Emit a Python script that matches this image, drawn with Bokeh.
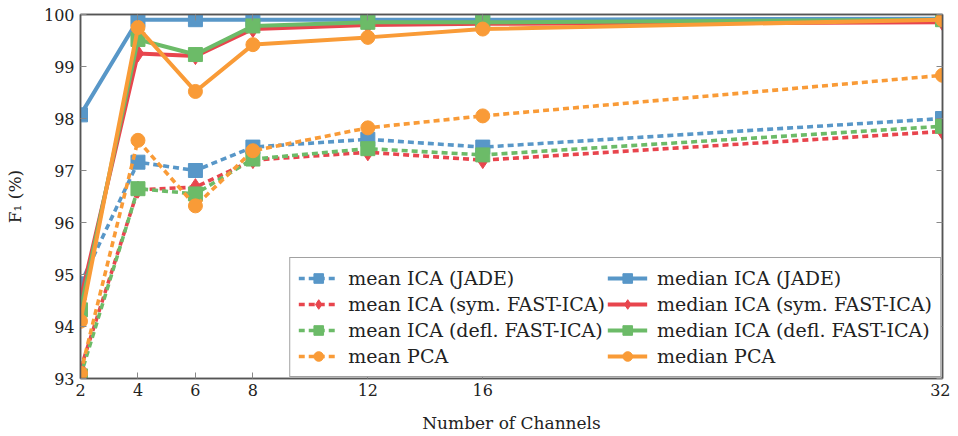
from bokeh.plotting import figure
from bokeh.models import Range1d, LinearAxis, Legend, LegendItem, FixedTicker, CustomJSTickFormatter
from bokeh.embed import file_html
from bokeh.resources import INLINE

channels = [2, 4, 6, 8, 12, 16, 32]
x_ticks = [2, 4, 6, 8, 12, 16, 32]
y_ticks = [93, 94, 95, 96, 97, 98, 99, 100]

mean_jade = [94.82, 97.16, 97.0, 97.45, 97.6, 97.45, 98.0]
median_jade = [98.07, 99.9, 99.9, 99.9, 99.9, 99.9, 99.92]
mean_sym = [93.18, 96.63, 96.68, 97.2, 97.35, 97.2, 97.75]
median_sym = [94.52, 99.25, 99.2, 99.72, 99.8, 99.82, 99.85]
mean_defl = [93.05, 96.65, 96.55, 97.22, 97.42, 97.3, 97.85]
median_defl = [94.32, 99.52, 99.23, 99.78, 99.85, 99.85, 99.9]
mean_pca = [93.1, 97.58, 96.32, 97.38, 97.82, 98.05, 98.83]
median_pca = [94.1, 99.75, 98.52, 99.42, 99.56, 99.72, 99.9]

BLUE = "#5897c8"
RED = "#e8454d"
GREEN = "#6cbb68"
ORANGE = "#f99b37"
FONT = "DejaVu Serif"

p = figure(width=950, height=436, output_backend="svg", toolbar_location=None,
           x_range=Range1d(2, 32), y_range=Range1d(93, 100),
           min_border_left=80, min_border_right=8, min_border_top=14, min_border_bottom=58)
p.xgrid.visible = False
p.ygrid.visible = False
p.outline_line_color = "#555555"
p.outline_line_width = 1.5

for ax in (p.xaxis[0], p.yaxis[0]):
    ax.axis_line_color = "#555555"
    ax.axis_line_width = 1.5
    ax.major_tick_in = 6
    ax.major_tick_out = 0
    ax.minor_tick_line_color = None
    ax.major_tick_line_color = "#888888"
    ax.major_label_text_font = FONT
    ax.major_label_text_font_size = "16px"
    ax.major_label_text_color = "#222222"
    ax.axis_label_text_font = FONT
    ax.axis_label_text_font_size = "17px"
    ax.axis_label_text_font_style = "normal"
    ax.axis_label_text_color = "#222222"

p.xaxis[0].ticker = FixedTicker(ticks=x_ticks)
p.yaxis[0].ticker = FixedTicker(ticks=y_ticks)
p.xaxis[0].axis_label = "Number of Channels"
p.yaxis[0].axis_label = "F\u2081 (%)"
p.xaxis[0].major_label_standoff = 5
p.yaxis[0].major_label_standoff = 6
p.xaxis[0].axis_label_standoff = 14
p.yaxis[0].axis_label_standoff = 16

blank = CustomJSTickFormatter(code="return '';")
rax = LinearAxis(ticker=FixedTicker(ticks=y_ticks), formatter=blank,
                 major_tick_in=6, major_tick_out=0, minor_tick_line_color=None,
                 major_tick_line_color="#888888", axis_line_color="#555555", axis_line_width=1.5)
tax = LinearAxis(ticker=FixedTicker(ticks=x_ticks), formatter=blank,
                 major_tick_in=6, major_tick_out=0, minor_tick_line_color=None,
                 major_tick_line_color="#888888", axis_line_color="#555555", axis_line_width=1.5)
p.add_layout(rax, "right")
p.add_layout(tax, "above")

series = [
    ("mean ICA (JADE)", mean_jade, BLUE, "square", True),
    ("median ICA (JADE)", median_jade, BLUE, "square", False),
    ("mean ICA (sym. FAST-ICA)", mean_sym, RED, "diamond", True),
    ("median ICA (sym. FAST-ICA)", median_sym, RED, "diamond", False),
    ("mean ICA (defl. FAST-ICA)", mean_defl, GREEN, "square", True),
    ("median ICA (defl. FAST-ICA)", median_defl, GREEN, "square", False),
    ("mean PCA", mean_pca, ORANGE, "circle", True),
    ("median PCA", median_pca, ORANGE, "circle", False),
]

items = {}
for name, vals, col, mk, dashed in series:
    if dashed:
        ln = p.line(channels, vals, line_color=col, line_width=3.6, line_dash="6 4")
    else:
        ln = p.line(channels, vals, line_color=col, line_width=4)
    size = {"square": 14, "diamond": 17, "circle": 14}[mk]
    sc = p.scatter(channels, vals, marker=mk, size=size, fill_color=col, line_color=col)
    items[name] = LegendItem(label=name, renderers=[ln, sc])

order = [s[0] for s in series if s[4]] + [s[0] for s in series if not s[4]]
legend = Legend(items=[items[n] for n in order], ncols=2, location="bottom_right",
                label_text_font=FONT, label_text_font_size="19px", label_text_color="#222222",
                border_line_color="#444444", border_line_width=1.2,
                background_fill_alpha=1.0, glyph_width=40, glyph_height=24,
                label_height=24, spacing=2, padding=8, margin=1,
                label_standoff=10)
p.add_layout(legend, "center")

open("out.html", "w").write(file_html(p, INLINE))
